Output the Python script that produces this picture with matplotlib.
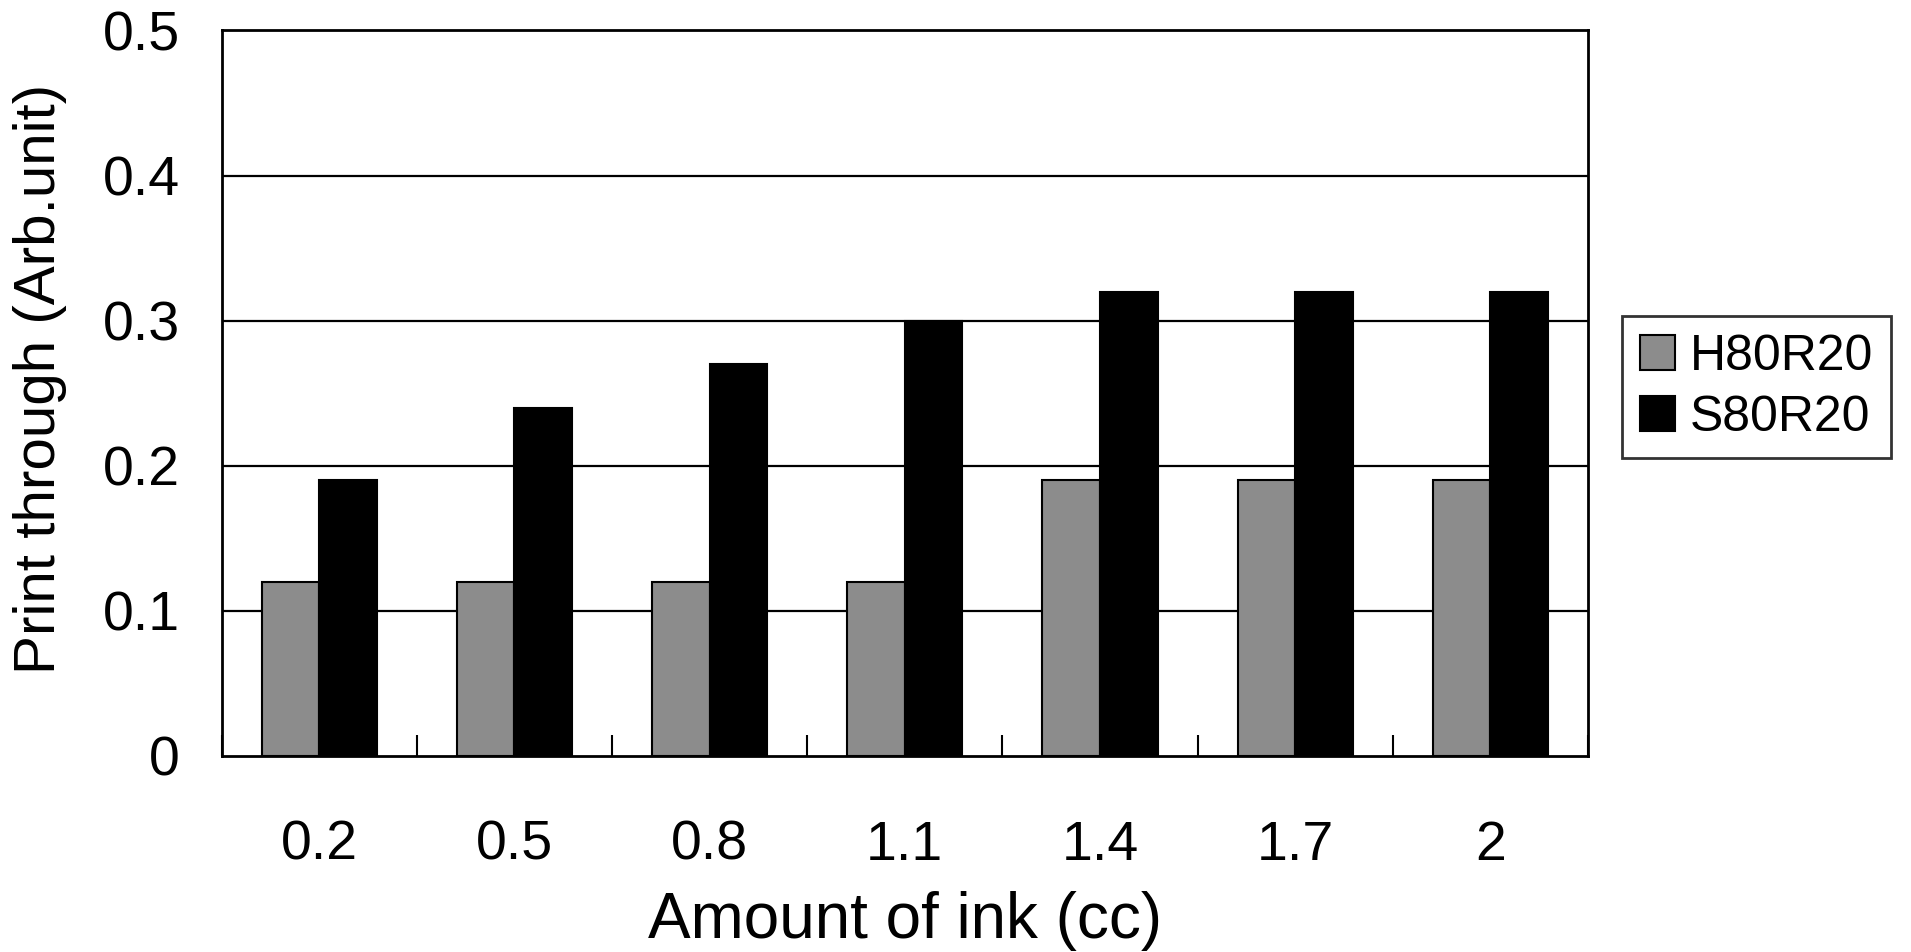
import numpy as np
import matplotlib
matplotlib.use("Agg")
import matplotlib.pyplot as plt

plt.rcParams['font.family'] = ['Liberation Sans', 'DejaVu Sans']

# data
amounts = ["0.2", "0.5", "0.8", "1.1", "1.4", "1.7", "2"]
h80r20 = [0.12, 0.12, 0.12, 0.12, 0.19, 0.19, 0.19]
s80r20 = [0.19, 0.24, 0.27, 0.30, 0.32, 0.32, 0.32]
series_names = ["H80R20", "S80R20"]
yticks = [0, 0.1, 0.2, 0.3, 0.4, 0.5]
ytick_labels = ["0", "0.1", "0.2", "0.3", "0.4", "0.5"]

fig = plt.figure(figsize=(19.11, 9.52), dpi=100)
ax = fig.add_axes([0.116, 0.206, 0.715, 0.762])

x = np.arange(len(amounts))
w = 0.295
ax.bar(x - w/2, h80r20, w, color='#8c8c8c', edgecolor='black', linewidth=1.5,
       label=series_names[0], zorder=3)
ax.bar(x + w/2, s80r20, w, color='black', edgecolor='black', linewidth=1.5,
       label=series_names[1], zorder=3)

ax.set_xlim(-0.5, len(amounts) - 0.5)
ax.set_ylim(0, 0.5)

# gridlines
for v in yticks[1:-1]:
    ax.axhline(v, color='black', linewidth=1.6, zorder=1)

ax.set_yticks(yticks)
ax.set_yticklabels(ytick_labels)
ax.set_xticks(x)
ax.set_xticklabels(amounts)
ax.set_xticks(np.arange(len(amounts) + 1) - 0.5, minor=True)
ax.tick_params(axis='x', which='major', length=0, pad=46, labelsize=40)
ax.tick_params(axis='x', which='minor', direction='in', length=15, width=1.5)
ax.tick_params(axis='y', length=0, pad=30, labelsize=40)

for s in ax.spines.values():
    s.set_linewidth(2)
    s.set_color('black')

ax.set_xlabel("Amount of ink (cc)", fontsize=46, labelpad=14)
ax.set_ylabel("Print through (Arb.unit)", fontsize=42)
ax.yaxis.set_label_coords(-0.113, 0.52)

leg = fig.legend(loc='center left', bbox_to_anchor=(0.849, 0.593), fontsize=36,
                 frameon=True, fancybox=False, edgecolor='black',
                 handlelength=0.7, handleheight=0.7, handletextpad=0.3,
                 borderpad=0.35, labelspacing=0.3, borderaxespad=0)
leg.get_frame().set_linewidth(2)

fig.savefig("out.png", dpi=100)
